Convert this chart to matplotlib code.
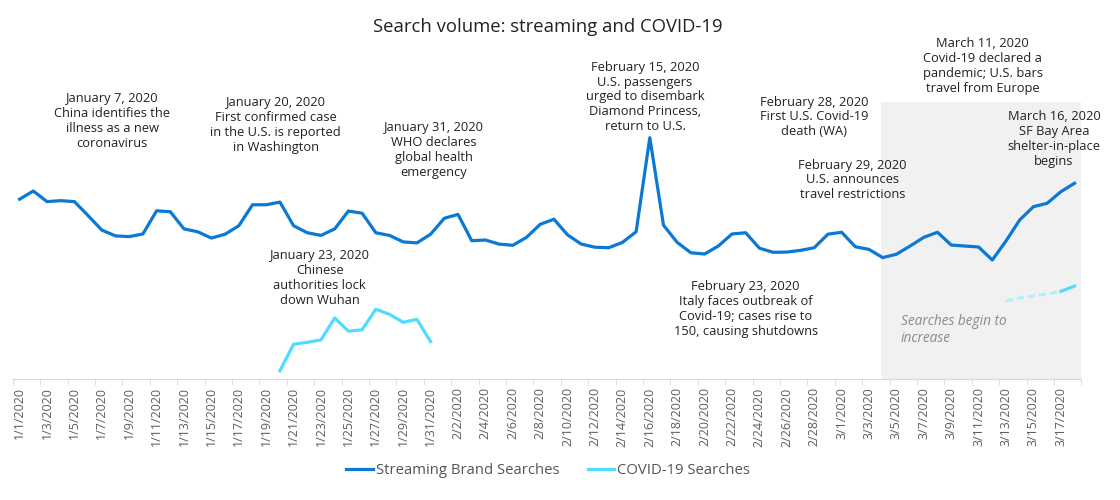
import matplotlib
matplotlib.use('Agg')
import matplotlib.pyplot as plt
import numpy as np
import pandas as pd

# data (index ~ search volume)
fechas = pd.date_range('2020-01-01', '2020-03-18', freq='D')
etiquetas = [f"{d.month}/{d.day}/2020" for d in fechas]

streaming = [74.5, 77.9, 73.5, 73.9, 73.5, 67.7, 61.7, 59.3, 59.0, 60.1,
             69.7, 69.3, 62.2, 61.0, 58.4, 60.0, 63.5, 72.2, 72.2, 73.3,
             63.5, 60.6, 59.5, 62.2, 69.6, 68.7, 60.6, 59.5, 56.8, 56.4,
             60.0, 66.6, 68.2, 57.3, 57.6, 55.9, 55.4, 58.7, 64.1, 66.2,
             59.7, 55.9, 54.6, 54.4, 56.6, 61.0, 100.0, 63.7, 56.6, 52.3,
             51.8, 55.1, 60.1, 60.6, 54.2, 52.5, 52.6, 53.3, 54.4, 60.0,
             60.8, 54.8, 53.7, 50.3, 51.7, 55.1, 58.7, 60.8, 55.5, 55.1,
             54.7, 49.3, 57.2, 65.9, 71.4, 72.8, 77.6, 81.1]

covid_jan_fechas = pd.date_range('2020-01-20', '2020-01-31', freq='D')
covid_jan = [3.4, 14.4, 15.2, 16.2, 25.3, 19.8, 20.4, 28.9, 26.8, 23.5, 24.7, 15.5]
covid_mar_fechas = pd.date_range('2020-03-13', '2020-03-18', freq='D')
covid_mar = [32.3, 33.6, 34.4, 35.2, 36.3, 38.5]

titulo = 'Search volume: streaming and COVID-19'
notas = [
    ('January 7, 2020\nChina identifies the\nillness as a new\ncoronavirus', 106.9, 6.75),
    ('January 20, 2020\nFirst confirmed case\nin the U.S. is reported\nin Washington', 105.3, 18.7),
    ('January 31, 2020\nWHO declares\nglobal health\nemergency', 94.9, 30.25),
    ('February 15, 2020\nU.S. passengers\nurged to disembark\nDiamond Princess,\nreturn to U.S.', 116.9, 45.65),
    ('February 28, 2020\nFirst U.S. Covid-19\ndeath (WA)', 108.6, 58.0),
    ('March 11, 2020\nCovid-19 declared a\npandemic; U.S. bars\ntravel from Europe', 129.7, 70.3),
    ('March 16, 2020\nSF Bay Area\nshelter-in-place\nbegins', 99.5, 75.5),
    ('February 29, 2020\nU.S. announces\ntravel restrictions', 82.5, 60.8),
    ('January 23, 2020\nChinese\nauthorities lock\ndown Wuhan', 41.9, 21.9),
    ('February 23, 2020\nItaly faces outbreak of\nCovid-19; cases rise to\n150, causing shutdowns', 29.0, 53.0),
]

plt.rcParams['font.family'] = ['Open Sans', 'DejaVu Sans']

azul = '#0A78D4'
cian = '#4FDDFF'

fig = plt.figure(figsize=(11.2, 5.0), dpi=100)
ax = fig.add_axes([0.0114, 0.242, 0.9541, 0.724])

x = np.arange(len(fechas))
pos = {d: i for i, d in enumerate(fechas)}
xj = [pos[d] for d in covid_jan_fechas]
xm = [pos[d] for d in covid_mar_fechas]

# zona sombreada
ax.axvspan(62.9, 77.85, ymin=0, ymax=0.765, color='#f1f1f1', lw=0, zorder=0)

ax.plot(x, streaming, color=azul, lw=2.3, zorder=3, label='Streaming Brand Searches')
ax.plot(xj, covid_jan, color=cian, lw=2.3, zorder=3, label='COVID-19 Searches')
ax.plot(xm[:-1], covid_mar[:-1], color='#aef0ff', lw=2.3, ls=(0, (2.2, 1.3)), zorder=3)
ax.plot(xm[-2:], covid_mar[-2:], color=cian, lw=2.3, zorder=3)

for texto, yv, xv in notas:
    ax.text(xv, yv, texto, ha='center', va='center', fontsize=9.3,
            color='#222222', linespacing=1.18)
ax.text(64.3, 20.3, 'Searches begin to\nincrease', ha='left', va='center',
        fontsize=9.8, style='italic', color='#8a8a8a', linespacing=1.15)

fig.text(0.489, 0.946, titulo, ha='center', va='center', fontsize=13.3, color='#222222')

ax.set_xlim(-0.5, 77.5)
ax.set_ylim(0, 150)
ax.set_yticks([])
for s in ['top', 'right', 'left']:
    ax.spines[s].set_visible(False)
ax.spines['bottom'].set_color('#d9d9d9')
ax.set_xticks(x[::2])
ax.set_xticklabels(etiquetas[::2], rotation=90, fontsize=9.0, color='#605E5C')
ax.set_xticks(np.arange(-0.5, 78, 2), minor=True)
ax.tick_params(axis='x', which='major', length=0, pad=6)
ax.tick_params(axis='x', which='minor', length=4, color='#d9d9d9')

ax.legend(loc='center', bbox_to_anchor=(0.4895, 0.058), bbox_transform=fig.transFigure,
          ncol=2, frameon=False, fontsize=10.7, handlelength=1.8, handletextpad=0.2,
          columnspacing=1.9, labelcolor='#555555')

plt.savefig('out.png', dpi=100)
